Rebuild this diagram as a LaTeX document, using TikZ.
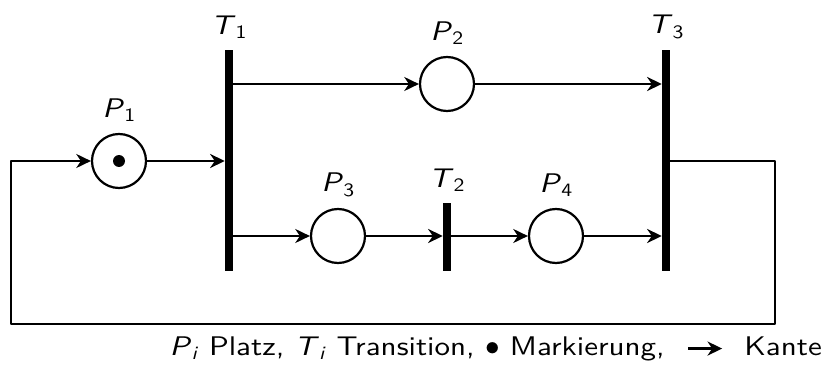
\documentclass[tikz,border=0pt]{standalone}
\usepackage{fontspec}
\usetikzlibrary{arrows.meta}

\newfontfamily\pnsans{lmsans10-regular.otf}[ItalicFont=lmsans10-oblique.otf,FakeStretch=1.15]
\newcommand{\pnlab}[2]{\textit{#1}\textsubscript{#2}}
\newcommand{\pnfont}{\pnsans\fontsize{23}{27}\selectfont}

\tikzset{
  place/.style={circle,draw,line width=1.9pt,minimum size=54*0.03cm,inner sep=0pt},
  trans/.style={fill=black,minimum width=8*0.03cm,minimum height=221*0.03cm,inner sep=0pt},
  token/.style={circle,fill=black,minimum size=12*0.03cm,inner sep=0pt},
  edge/.style={line width=1.9pt,line join=round,-{Stealth[length=12.5pt,width=12pt,inset=4pt]}},
  lab/.style={font=\pnfont,label distance=6pt},
}

\begin{document}
\begin{tikzpicture}[x=0.03cm,y=-0.03cm,font=\pnfont]
  \useasboundingbox (0,0) rectangle (828,367);
  % Stellen und Transitionen
  \node[place,label={[lab]above:\pnlab{P}{1}}] (p1) at (119,161) {};
  \node[token] (tok) at (p1) {};
  \node[trans,label={[lab]above:\pnlab{T}{1}}] (t1) at (229,160.5) {};
  \node[place,label={[lab]above:\pnlab{P}{2}}] (p2) at (447,84) {};
  \node[trans,label={[lab]above:\pnlab{T}{3}}] (t3) at (666,160.5) {};
  \node[place,label={[lab]above:\pnlab{P}{3}}] (p3) at (338,236) {};
  \node[trans,minimum height=68*0.03cm,label={[lab]above:\pnlab{T}{2}}] (t2) at (447,237) {};
  \node[place,label={[lab]above:\pnlab{P}{4}}] (p4) at (556,236) {};
  % Kanten
  \draw[edge] (p1) -- (t1.west |- p1);
  \draw[edge] (t1.east |- p2) -- (p2);
  \draw[edge] (p2) -- (t3.west |- p2);
  \draw[edge] (t1.east |- p3) -- (p3);
  \draw[edge] (p3) -- (t2.west |- p3);
  \draw[edge] (t2.east |- p4) -- (p4);
  \draw[edge] (p4) -- (t3.west |- p4);
  % Rueckfuehrung
  \coordinate (loopr) at (775,324);
  \coordinate (loopl) at (11,324);
  \draw[edge] (t3.east |- p1) -| (loopr) -- (loopl) |- (p1);
  % Legende
  \node[anchor=base east,inner sep=0pt] (kante) at (822,355) {Kante};
  \node[anchor=base east,inner sep=0pt] (legtext) at (665,355)
    {\pnlab{P}{\textit{i}} Platz, \pnlab{T}{\textit{i}} Transition, $\bullet$ Markierung,};
  \draw[edge] ([xshift=23*0.03cm,yshift=5.5pt]legtext.base east) -- ([xshift=-22*0.03cm,yshift=5.5pt]kante.base west);
\end{tikzpicture}
\end{document}
